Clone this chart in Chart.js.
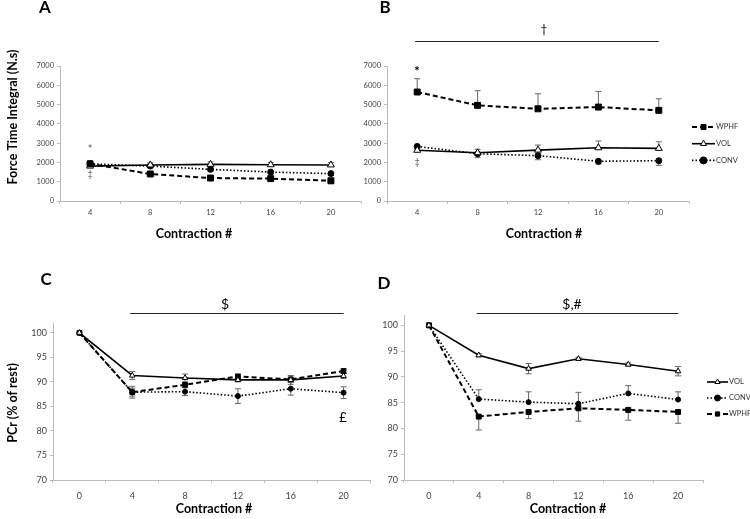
<!DOCTYPE html>
<html>
<head>
<meta charset="utf-8">
<script src="https://cdn.jsdelivr.net/npm/chart.js@4.4.1/dist/chart.umd.min.js"></script>
<style>
  body { margin: 0; background: #fff; width: 750px; height: 519px; position: relative; overflow: hidden; }
  canvas { position: absolute; }
  #chartA { left: 0; top: 0; }
  #chartB { left: 340px; top: 0; }
  #chartC { left: 0; top: 260px; }
  #chartD { left: 360px; top: 260px; }
</style>
</head>
<body>
<canvas id="chartA" width="375" height="260"></canvas>
<canvas id="chartB" width="410" height="260"></canvas>
<canvas id="chartC" width="375" height="259"></canvas>
<canvas id="chartD" width="390" height="259"></canvas>
<script>
// categories
const contractionsFTI = ['4', '8', '12', '16', '20'];
const contractionsPCr = ['0', '4', '8', '12', '16', '20'];

// A - force time integral (N.s)
const aWphf = [1930, 1400, 1190, 1160, 1050];
const aWphfErr = [80, 90, 100, 100, 150];
const aVol = [1810, 1870, 1900, 1880, 1870];
const aVolErr = [100, 110, 130, 120, 130];
const aConv = [1930, 1810, 1640, 1500, 1420];
const aConvErr = [80, 80, 90, 90, 90];

// B - force time integral (N.s)
const bWphf = [5650, 4960, 4780, 4870, 4700];
const bWphfErr = [690, 760, 780, 810, 600];
const bVol = [2630, 2500, 2640, 2760, 2730];
const bVolErr = [120, 180, 260, 350, 340];
const bConv = [2830, 2450, 2350, 2060, 2090];
const bConvErr = [150, 200, 210, 150, 240];

// C - PCr (% of rest)
const cVol = [100, 91.3, 90.8, 90.4, 90.4, 91.2];
const cVolErr = [0, 0.8, 0.8, 0.4, 0.9, 0.5];
const cWphf = [100, 87.9, 89.4, 91.1, 90.5, 92.2];
const cWphfErr = [0, 1.2, 0.5, 0.5, 0.5, 0.5];
const cConv = [100, 87.9, 88.0, 87.1, 88.6, 87.8];
const cConvErr = [0, 0.8, 0.8, 1.5, 1.3, 1.2];

// D - PCr (% of rest)
const dVol = [100, 94.2, 91.6, 93.5, 92.4, 91.1];
const dVolErr = [0, 0.3, 1.0, 0.3, 0.3, 0.9];
const dConv = [100, 85.7, 85.1, 84.8, 86.8, 85.6];
const dConvErr = [0, 1.8, 2.0, 2.2, 1.5, 1.5];
const dWphf = [100, 82.3, 83.2, 83.9, 83.6, 83.2];
const dWphfErr = [0, 2.6, 1.3, 2.5, 2.0, 2.2];

Chart.defaults.font.family = 'Lato, "Open Sans", sans-serif';
Chart.defaults.color = '#444';

// series styles
function wphf(data, errors, dir, r) {
    return { label: 'WPHF', data, errors, errorDir: dir, borderColor: '#000', borderWidth: 2, borderDash: [5, 3],
        pointStyle: 'rect', pointRadius: r, pointBackgroundColor: '#000', pointBorderColor: '#000', pointBorderWidth: 1 };
}
function vol(data, errors, dir, r) {
    return { label: 'VOL', data, errors, errorDir: dir, borderColor: '#000', borderWidth: 1.6,
        pointStyle: 'triangle', pointRadius: r, pointBackgroundColor: '#fff', pointBorderColor: '#000', pointBorderWidth: 1 };
}
function conv(data, errors, dir, r) {
    return { label: 'CONV', data, errors, errorDir: dir, borderColor: '#000', borderWidth: 1.6, borderDash: [1.5, 2],
        pointStyle: 'circle', pointRadius: r, pointBackgroundColor: '#000', pointBorderColor: '#000', pointBorderWidth: 1 };
}

const errorBars = {
    id: 'errorBars',
    beforeDatasetsDraw(chart) {
        const { ctx } = chart;
        const y = chart.scales.y;
        ctx.save();
        ctx.strokeStyle = '#666';
        ctx.lineWidth = 1;
        chart.data.datasets.forEach((ds, i) => {
            if (!ds.errors) return;
            chart.getDatasetMeta(i).data.forEach((pt, j) => {
                const err = ds.errors[j];
                if (!err) return;
                const v = ds.data[j];
                const yHi = y.getPixelForValue(ds.errorDir === 'down' ? v : v + err);
                const yLo = y.getPixelForValue(ds.errorDir === 'up' ? v : v - err);
                ctx.beginPath();
                ctx.moveTo(pt.x, yHi);
                ctx.lineTo(pt.x, yLo);
                if (ds.errorDir !== 'down') { ctx.moveTo(pt.x - 3, yHi); ctx.lineTo(pt.x + 3, yHi); }
                if (ds.errorDir !== 'up') { ctx.moveTo(pt.x - 3, yLo); ctx.lineTo(pt.x + 3, yLo); }
                ctx.stroke();
            });
        });
        ctx.restore();
    }
};

// panel letters, titles, significance bars (positions in page px)
const notes = {
    id: 'notes',
    afterDraw(chart, args, opts) {
        const { ctx } = chart;
        const [ox, oy] = opts.origin;
        ctx.save();
        if (opts.sigLine) {
            const s = opts.sigLine;
            const x = chart.scales.x;
            ctx.strokeStyle = '#222';
            ctx.lineWidth = 1;
            ctx.beginPath();
            ctx.moveTo(x.getPixelForValue(s.from) - 2, s.y - oy + 0.5);
            ctx.lineTo(x.getPixelForValue(s.to), s.y - oy + 0.5);
            ctx.stroke();
        }
        ctx.textAlign = 'center';
        ctx.textBaseline = 'middle';
        (opts.texts || []).forEach(t => {
            ctx.save();
            ctx.font = t.font;
            ctx.fillStyle = t.color || '#000';
            ctx.translate(t.x - ox, t.y - oy);
            if (t.rot) ctx.rotate(-Math.PI / 2);
            ctx.fillText(t.text, 0, 0);
            ctx.restore();
        });
        ctx.restore();
    }
};

// legend with line + marker sample
const lineLegend = {
    id: 'lineLegend',
    afterDraw(chart, args, opts) {
        if (!opts.items) return;
        const { ctx } = chart;
        const [ox, oy] = opts.origin;
        ctx.save();
        opts.items.forEach((idx, k) => {
            const ds = chart.data.datasets[idx];
            const y = opts.y + k * opts.gap - oy;
            const x0 = opts.x - ox;
            ctx.strokeStyle = ds.borderColor;
            ctx.lineWidth = ds.borderWidth;
            ctx.setLineDash(ds.borderDash || []);
            ctx.beginPath();
            ctx.moveTo(x0, y);
            ctx.lineTo(x0 + opts.len, y);
            ctx.stroke();
            ctx.setLineDash([]);
            ctx.fillStyle = ds.pointBackgroundColor;
            ctx.strokeStyle = ds.pointBorderColor;
            ctx.lineWidth = 1;
            Chart.helpers.drawPoint(ctx, { pointStyle: ds.pointStyle, radius: opts.r, borderWidth: 1, rotation: 0 }, x0 + opts.len / 2, y);
            ctx.fillStyle = '#333';
            ctx.font = '7.5px Lato';
            ctx.textAlign = 'left';
            ctx.textBaseline = 'middle';
            ctx.fillText(ds.label, x0 + opts.len + 1, y);
        });
        ctx.restore();
    }
};

function makePanel(id, p) {
    return new Chart(document.getElementById(id), {
        type: 'line',
        data: { labels: p.labels, datasets: p.datasets },
        plugins: [errorBars, notes, lineLegend],
        options: {
            responsive: false,
            animation: false,
            layout: { padding: p.padding },
            plugins: {
                legend: { display: false },
                tooltip: { enabled: false },
                notes: p.notes,
                lineLegend: p.legend || {}
            },
            scales: {
                x: {
                    offset: true,
                    grid: { offset: true, drawOnChartArea: false, tickLength: 3, color: '#bbb' },
                    border: { color: '#bbb' },
                    ticks: { font: { size: p.tickSize }, color: '#444', padding: p.xPad, maxRotation: 0 },
                    afterFit: s => { s.height = p.xHeight; }
                },
                y: {
                    min: p.yMin, max: p.yMax,
                    grid: { drawOnChartArea: false, tickLength: 3, color: '#bbb' },
                    border: { color: '#bbb' },
                    ticks: { stepSize: p.step, includeBounds: false, font: { size: p.tickSize }, color: '#444', padding: 3,
                        callback: v => String(v) },
                    afterFit: s => { s.width = p.yWidth; }
                }
            }
        }
    });
}

const titleFont = 'bold 12.5px Lato';
const letterFont = 'bold 17px Lato';

makePanel('chartA', {
    labels: contractionsFTI,
    datasets: [wphf(aWphf, aWphfErr, 'down', 4.2), vol(aVol, aVolErr, 'up', 4), conv(aConv, aConvErr, 'down', 3)],
    padding: { left: 0, top: 66, right: 14, bottom: 0 },
    yWidth: 60, xHeight: 59, xPad: 4, tickSize: 7.5,
    yMin: 0, yMax: 7000, step: 1000,
    notes: {
        origin: [0, 0],
        texts: [
            { text: 'A', x: 45, y: 8, font: letterFont },
            { text: 'Force Time Integral (N.s)', x: 13, y: 117, font: titleFont, rot: true },
            { text: 'Contraction #', x: 194, y: 234, font: titleFont },
            { text: '*', x: 90, y: 149, font: '11px Lato', color: '#555' },
            { text: '‡', x: 90, y: 174, font: '9px Lato', color: '#555' }
        ]
    }
});

makePanel('chartB', {
    labels: contractionsFTI,
    datasets: [wphf(bWphf, bWphfErr, 'up', 4.2), vol(bVol, bVolErr, 'up', 4), conv(bConv, bConvErr, 'down', 3)],
    padding: { left: 0, top: 66, right: 61, bottom: 0 },
    yWidth: 47, xHeight: 59, xPad: 4, tickSize: 7.5,
    yMin: 0, yMax: 7000, step: 1000,
    notes: {
        origin: [340, 0],
        sigLine: { y: 41, from: 0, to: 4 },
        texts: [
            { text: 'B', x: 385, y: 8, font: letterFont },
            { text: 'Contraction #', x: 544, y: 234, font: titleFont },
            { text: '†', x: 544, y: 29, font: '12px Lato' },
            { text: '*', x: 417, y: 72, font: 'bold 13px Lato' },
            { text: '‡', x: 417, y: 162, font: '9px Lato', color: '#555' }
        ]
    },
    legend: { origin: [340, 0], items: [0, 1, 2], x: 692, y: 127, gap: 16.7, len: 23, r: 3.5 }
});

makePanel('chartC', {
    labels: contractionsPCr,
    datasets: [vol(cVol, cVolErr, 'both', 3.2), wphf(cWphf, cWphfErr, 'both', 3.3), conv(cConv, cConvErr, 'both', 2.5)],
    padding: { left: 0, top: 63, right: 5, bottom: 0 },
    yWidth: 53, xHeight: 39, xPad: 8, tickSize: 9,
    yMin: 70, yMax: 102, step: 5,
    notes: {
        origin: [0, 260],
        sigLine: { y: 313, from: 1, to: 5 },
        texts: [
            { text: 'C', x: 46, y: 280, font: letterFont },
            { text: 'PCr (% of rest)', x: 13, y: 403, font: titleFont, rot: true },
            { text: 'Contraction #', x: 214, y: 509, font: titleFont },
            { text: '$', x: 225, y: 304, font: '14px Lato' },
            { text: '£', x: 343, y: 418, font: '13px Lato' }
        ]
    }
});

makePanel('chartD', {
    labels: contractionsPCr,
    datasets: [vol(dVol, dVolErr, 'both', 3.2), conv(dConv, dConvErr, 'up', 2.5), wphf(dWphf, dWphfErr, 'down', 3.5)],
    padding: { left: 0, top: 55, right: 47, bottom: 0 },
    yWidth: 44, xHeight: 39, xPad: 8, tickSize: 9,
    yMin: 70, yMax: 102, step: 5,
    notes: {
        origin: [360, 260],
        sigLine: { y: 313, from: 1, to: 5 },
        texts: [
            { text: 'D', x: 384, y: 284, font: letterFont },
            { text: 'Contraction #', x: 568, y: 509, font: titleFont },
            { text: '$,#', x: 572, y: 304, font: '14px Lato' }
        ]
    },
    legend: { origin: [360, 260], items: [0, 1, 2], x: 707, y: 382, gap: 16, len: 21, r: 3 }
});
</script>
</body>
</html>
